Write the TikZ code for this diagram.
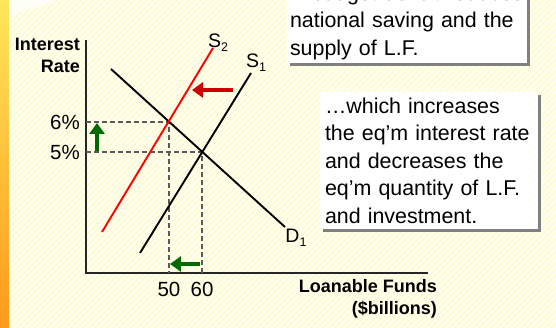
\documentclass[tikz,border=0pt]{standalone}
\usepackage{fontspec}
\setmainfont{Liberation Sans}
\usetikzlibrary{arrows.meta,shadows}
\definecolor{bgyel}{HTML}{FDFCCC}
\definecolor{barTop}{HTML}{FFE65A}
\definecolor{barBot}{HTML}{FF9A1A}
\definecolor{dgreen}{HTML}{006A00}
\definecolor{darr}{HTML}{CC0000}
\definecolor{dashgray}{HTML}{5A5A5A}
\begin{document}
\begin{tikzpicture}[x=1pt,y=-1pt,
  curve/.style={line width=1.9pt},
  axis/.style={line width=1.3pt, draw=black!85},
  guide/.style={dashgray, line width=1.3pt, dash pattern=on 5pt off 3pt},
  bigarrow/.style={line width=4pt, -{Triangle[width=15pt,length=11pt]}},
  lbl/.style={font=\fontsize{19.5}{19.5}\selectfont, inner sep=0pt},
  tick/.style={font=\fontsize{20.5}{20.5}\selectfont, inner sep=0pt},
  axlbl/.style={font=\bfseries\fontsize{18}{22}\selectfont, inner sep=0pt, align=right},
  note/.style={fill=white, align=left, inner ysep=0pt,
    font=\fontsize{21.4}{27.5}\selectfont,
    drop shadow={shadow xshift=3pt, shadow yshift=-3pt, fill=gray, opacity=1}}
]
\useasboundingbox (0,0) rectangle (556,328);
% background
\begin{scope}
  \clip (9,0) rectangle (556,328);
  \fill[bgyel] (0,0) rectangle (556,328);
  \foreach \i in {-340,-334,...,560}
    \draw[white, line width=2.2pt, opacity=0.8] (\i,328) -- ++(328,-328);
  \fill[white, opacity=0.7] (9,0) -- (58,0) -- (9,16) -- cycle;
\end{scope}
\shade[top color=barTop, bottom color=barBot] (0,0) rectangle (9,328);

% axes
\coordinate (O) at (86,273);
\coordinate (ytop) at (86,40);
\coordinate (xend) at (428,273);
\draw[axis] (ytop) -- (O) -- (xend);

% equilibrium guides
\coordinate (E1) at (202,152);
\coordinate (E2) at (169,122);
\coordinate (y5) at (86,152);
\coordinate (y6) at (86,122);
\coordinate (x60) at (202,273);
\coordinate (x50) at (169,273);
\draw[guide] (y6) -- (E2) -- (x50);
\draw[guide] (y5) -- (E1) -- (x60);

% curves
\coordinate (d1) at (111,69);
\coordinate (d2) at (285,227);
\coordinate (s1a) at (140,253);
\coordinate (s1b) at (251,73);
\coordinate (s2a) at (102,232);
\coordinate (s2b) at (213,48);
\draw[curve, black] (d1) -- (d2);
\draw[curve, black] (s1a) -- (s1b);
\draw[curve, red] (s2a) -- (s2b);

% curve labels
\node[lbl] (S2) at (218,43) {S\raisebox{-4pt}{\fontsize{12.5}{12.5}\selectfont 2}};
\node[lbl] (S1) at (256,63) {S\raisebox{-4pt}{\fontsize{12.5}{12.5}\selectfont 1}};
\node[lbl] (D1) at (296,238) {D\raisebox{-4pt}{\fontsize{12.5}{12.5}\selectfont 1}};

% ticks
\node[tick, anchor=east] (t6) at (80,122) {6\%};
\node[tick, anchor=east] (t5) at (80,152) {5\%};
\node[tick] (t50) at (169,289) {50};
\node[tick] (t60) at (202,289) {60};

% axis labels
\node[axlbl, anchor=east] (ylab) at (80,55) {Interest\\Rate};
\node[axlbl, anchor=east] (xlab) at (437,298.5) {Loanable Funds\\(\$billions)};

% shift arrows
\coordinate (ra1) at (233,90);
\coordinate (ra2) at (192,90);
\draw[bigarrow, darr] (ra1) -- (ra2);
\coordinate (ga1) at (97,151);
\coordinate (ga2) at (97,123);
\draw[bigarrow, dgreen] (ga1) -- (ga2);
\coordinate (gb1) at (200,264);
\coordinate (gb2) at (170,264);
\draw[bigarrow, dgreen] (gb1) -- (gb2);

% notes
\node[note, minimum width=240pt, minimum height=82pt, text width=234pt, inner xsep=3pt] (box1) at (407,22)
  {A budget deficit reduces\\national saving and the\\supply of L.F.};
\node[note, minimum width=218pt, minimum height=137pt, text width=208pt, inner xsep=5pt] (box2) at (429,160.5)
  {…which increases\\the eq’m interest rate\\and decreases the\\eq’m quantity of L.F.\\and investment.};
\end{tikzpicture}
\end{document}
